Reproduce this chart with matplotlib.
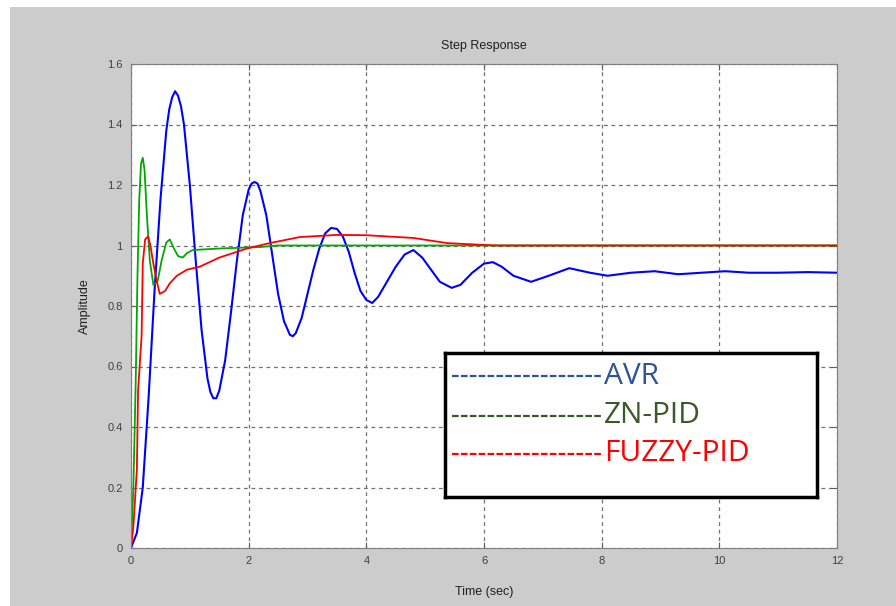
import matplotlib.pyplot as plt
from matplotlib.patches import Rectangle

# AVR (blue) step response
avr_t = [0, 0.1, 0.2, 0.3, 0.4, 0.5, 0.6, 0.65, 0.7, 0.75, 0.8, 0.85, 0.9, 1.0, 1.1, 1.2, 1.3,
         1.35, 1.4, 1.45, 1.5, 1.6, 1.7, 1.8, 1.9, 2.0, 2.05, 2.1, 2.15, 2.2, 2.3, 2.4, 2.5,
         2.6, 2.7, 2.75, 2.8, 2.9, 3.0, 3.1, 3.2, 3.3, 3.4, 3.5, 3.6, 3.7, 3.8, 3.9, 4.0,
         4.1, 4.2, 4.35, 4.5, 4.65, 4.8, 4.95, 5.1, 5.25, 5.45, 5.6, 5.8, 6.0, 6.15, 6.3,
         6.5, 6.8, 7.1, 7.45, 7.8, 8.1, 8.5, 8.9, 9.3, 9.7, 10.1, 10.5, 11.0, 11.5, 12.0]
avr_y = [0, 0.05, 0.2, 0.5, 0.85, 1.15, 1.38, 1.45, 1.49, 1.51, 1.495, 1.46, 1.40, 1.2, 0.95,
         0.72, 0.56, 0.515, 0.495, 0.495, 0.52, 0.62, 0.78, 0.95, 1.10, 1.185, 1.205, 1.21,
         1.205, 1.18, 1.10, 0.97, 0.84, 0.75, 0.705, 0.70, 0.71, 0.76, 0.84, 0.92, 0.99,
         1.04, 1.058, 1.055, 1.03, 0.98, 0.91, 0.85, 0.82, 0.81, 0.83, 0.88, 0.93, 0.97,
         0.985, 0.96, 0.92, 0.88, 0.86, 0.87, 0.91, 0.94, 0.945, 0.93, 0.90, 0.88, 0.90,
         0.925, 0.91, 0.90, 0.91, 0.915, 0.905, 0.91, 0.915, 0.91, 0.91, 0.912, 0.91]

# ZN-PID (green)
zn_t = [0, 0.04, 0.08, 0.11, 0.14, 0.17, 0.2, 0.23, 0.27, 0.32, 0.38, 0.45, 0.52, 0.6,
        0.66, 0.73, 0.8, 0.88, 0.95, 1.05, 1.5, 2.2, 2.5, 12.0]
zn_y = [0, 0.2, 0.55, 0.9, 1.15, 1.27, 1.29, 1.25, 1.1, 0.95, 0.87, 0.88, 0.95, 1.01,
        1.02, 0.99, 0.965, 0.96, 0.975, 0.985, 0.99, 0.995, 1.0, 1.0]

# FUZZY-PID (red)
fz_t = [0, 0.04, 0.1, 0.12, 0.18, 0.2, 0.24, 0.29, 0.33, 0.38, 0.44, 0.49, 0.58, 0.66,
        0.78, 0.95, 1.17, 1.5, 1.97, 2.36, 2.87, 3.5, 4.0, 4.35, 4.8, 5.37, 6.2, 12.0]
fz_y = [0, 0.07, 0.26, 0.52, 0.70, 0.94, 1.02, 1.03, 1.0, 0.94, 0.88, 0.84, 0.85, 0.875,
        0.90, 0.92, 0.93, 0.96, 0.99, 1.008, 1.028, 1.035, 1.034, 1.03, 1.025, 1.008, 1.0, 1.0]

legend_names = ['AVR', 'ZN-PID', 'FUZZY-PID']
legend_colors = ['#2f5597', '#3b5a2a', '#ff0000']

fig = plt.figure(figsize=(8.96, 6.06), dpi=100, facecolor='white')
fig.patches.append(Rectangle((10 / 896, 0), 1, 1 - 7 / 606, transform=fig.transFigure,
                             facecolor='#cccccc', edgecolor='none', zorder=-10))

ax = fig.add_axes([131 / 896, 1 - 548 / 606, 706 / 896, 484 / 606])
ax.set_facecolor('white')
ax.plot(avr_t, avr_y, color='#0000ff', lw=1.5)
ax.plot(zn_t, zn_y, color='#00a800', lw=1.3)
ax.plot(fz_t, fz_y, color='#ff0000', lw=1.3)

ax.set_xlim(0, 12)
ax.set_ylim(0, 1.6)
ax.set_xticks(range(0, 13, 2))
ax.set_yticks([0, 0.2, 0.4, 0.6, 0.8, 1.0, 1.2, 1.4, 1.6])
ax.set_yticklabels(['0', '0.2', '0.4', '0.6', '0.8', '1', '1.2', '1.4', '1.6'])
ax.tick_params(direction='in', top=True, right=True, length=4, labelsize=8,
               labelcolor='#404040', color='#606060', pad=6)
for lab in ax.get_xticklabels() + ax.get_yticklabels():
    lab.set_family('Liberation Sans')
ax.grid(True, color='#707070', linestyle=(0, (3, 3)), lw=0.9)
for s in ax.spines.values():
    s.set_color('#808080')

ax.set_title('Step Response', fontsize=9, family='Liberation Sans', color='#202020', pad=11)
ax.set_xlabel('Time (sec)', fontsize=9, family='Liberation Sans', color='#202020', labelpad=14)
ax.set_ylabel('Amplitude', fontsize=9, family='Liberation Sans', color='#202020', labelpad=12)

# pasted legend box
lg = fig.add_axes([445 / 896, 1 - 497 / 606, 372 / 896, 144 / 606])
lg.set_xlim(0, 1)
lg.set_ylim(0, 1)
lg.set_xticks([])
lg.set_yticks([])
lg.set_facecolor('white')
for s in lg.spines.values():
    s.set_color('black')
    s.set_linewidth(2.5)
rows = [0.84, 0.565, 0.30]
for name, col, yy in zip(legend_names, legend_colors, rows):
    lg.plot([0.02, 0.425], [yy, yy], color=col, lw=1.6, linestyle=(0, (3, 1)))
    lg.text(0.428, yy, name, color=col, fontsize=21.5, family='Open Sans', va='center', ha='left')

fig.savefig('out.png', dpi=100)
